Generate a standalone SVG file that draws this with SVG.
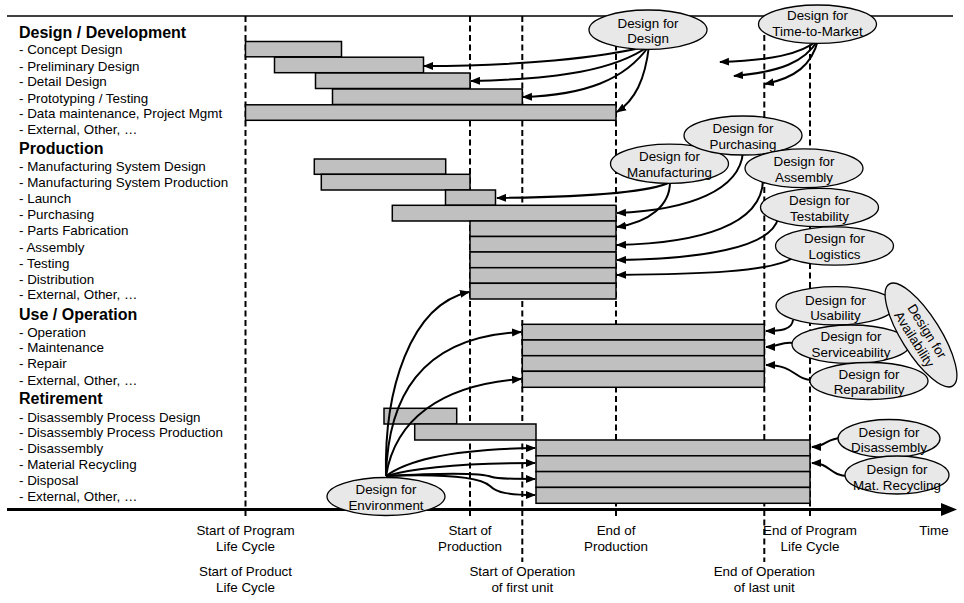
<svg xmlns="http://www.w3.org/2000/svg" width="964" height="603" viewBox="0 0 964 603">
<style>
text{font-family:"Liberation Sans",Arial,sans-serif;font-size:13.4px;fill:#000}
.h{font-weight:bold;font-size:16px}
.c{text-anchor:middle}
.bar{fill:#c0c0c0;stroke:#000;stroke-width:1.5}
.dash{stroke:#000;stroke-width:2;stroke-dasharray:6 3.5;fill:none}
.node ellipse{fill:#e8e8e8;stroke:#000;stroke-width:1.3}
.arr{fill:none;stroke:#000;stroke-width:2;marker-end:url(#ah)}
</style>
<defs>
<marker id="ah" markerUnits="userSpaceOnUse" viewBox="0 0 10 8" refX="9" refY="4" markerWidth="10" markerHeight="8.5" orient="auto">
<path d="M0,0 L10,4 L0,8 z" fill="#000"/>
</marker>
</defs>
<rect width="964" height="603" fill="#fff"/>
<line x1="7" y1="16" x2="953" y2="16" stroke="#000" stroke-width="1.5"/>
<g id="milestones">
<line class="dash" x1="245.5" y1="16" x2="245.5" y2="517"/>
<line class="dash" x1="470" y1="16" x2="470" y2="517"/>
<line class="dash" x1="522.3" y1="16" x2="522.3" y2="562"/>
<line class="dash" x1="616" y1="16" x2="616" y2="517"/>
<line class="dash" x1="764.3" y1="16" x2="764.3" y2="562"/>
<line class="dash" x1="810" y1="16" x2="810" y2="517"/>
</g>
<g id="axis">
<line x1="7" y1="509.5" x2="943" y2="509.5" stroke="#000" stroke-width="3"/>
<polygon points="941,503 957,509.5 941,516" fill="#000"/>
</g>
<g id="labels">
<text class="h" x="19" y="37.5">Design / Development</text>
<text x="19" y="54.1">- Concept Design</text>
<text x="19" y="70.5">- Preliminary Design</text>
<text x="19" y="85.8">- Detail Design</text>
<text x="19" y="102.5">- Prototyping / Testing</text>
<text x="19" y="118.1">- Data maintenance, Project Mgmt</text>
<text x="19" y="134.1">- External, Other, …</text>
<text class="h" x="19" y="154">Production</text>
<text x="19" y="170.8">- Manufacturing System Design</text>
<text x="19" y="187.1">- Manufacturing System Production</text>
<text x="19" y="203.1">- Launch</text>
<text x="19" y="219.1">- Purchasing</text>
<text x="19" y="234.8">- Parts Fabrication</text>
<text x="19" y="251.5">- Assembly</text>
<text x="19" y="267.5">- Testing</text>
<text x="19" y="283.8">- Distribution</text>
<text x="19" y="299.1">- External, Other, …</text>
<text class="h" x="19" y="319.8">Use / Operation</text>
<text x="19" y="336.5">- Operation</text>
<text x="19" y="352.1">- Maintenance</text>
<text x="19" y="368.1">- Repair</text>
<text x="19" y="384.8">- External, Other, …</text>
<text class="h" x="19" y="404">Retirement</text>
<text x="19" y="421.5">- Disassembly Process Design</text>
<text x="19" y="437.1">- Disassembly Process Production</text>
<text x="19" y="453.1">- Disassembly</text>
<text x="19" y="469.1">- Material Recycling</text>
<text x="19" y="484.8">- Disposal</text>
<text x="19" y="500.8">- External, Other, …</text>
</g>
<g id="bars">
<rect class="bar" x="245.5" y="41.5" width="96" height="15.3"/>
<rect class="bar" x="274.5" y="57.2" width="149" height="15.5"/>
<rect class="bar" x="315.5" y="73" width="154.5" height="15.5"/>
<rect class="bar" x="332.5" y="89" width="189.8" height="15.5"/>
<rect class="bar" x="245.5" y="104.8" width="370.5" height="15.5"/>
<rect class="bar" x="314.3" y="159" width="131.4" height="15.3"/>
<rect class="bar" x="321.3" y="174.3" width="148.7" height="15.7"/>
<rect class="bar" x="445.5" y="190" width="50" height="15.3"/>
<rect class="bar" x="392.3" y="205.3" width="223.7" height="15.7"/>
<rect class="bar" x="470" y="221" width="146" height="15.5"/>
<rect class="bar" x="470" y="236.5" width="146" height="15.5"/>
<rect class="bar" x="470" y="252" width="146" height="15.7"/>
<rect class="bar" x="470" y="267.7" width="146" height="15.6"/>
<rect class="bar" x="470" y="283.3" width="146" height="15.7"/>
<rect class="bar" x="522.3" y="324.3" width="242" height="15.7"/>
<rect class="bar" x="522.3" y="340" width="242" height="15.7"/>
<rect class="bar" x="522.3" y="355.7" width="242" height="15.6"/>
<rect class="bar" x="522.3" y="371.3" width="242" height="16"/>
<rect class="bar" x="384" y="408.3" width="72.7" height="15.7"/>
<rect class="bar" x="414.7" y="424" width="121.3" height="16"/>
<rect class="bar" x="536" y="440" width="274" height="15.8"/>
<rect class="bar" x="536" y="455.8" width="274" height="15.8"/>
<rect class="bar" x="536" y="471.6" width="274" height="15.8"/>
<rect class="bar" x="536" y="487.4" width="274" height="15.9"/>
</g>
<g id="timeLabels">
<text class="c" x="245.5" y="534.8">Start of Program</text>
<text class="c" x="245.5" y="550.8">Life Cycle</text>
<text class="c" x="245.5" y="575.8">Start of Product</text>
<text class="c" x="245.5" y="591.8">Life Cycle</text>
<text class="c" x="470" y="534.8">Start of</text>
<text class="c" x="470" y="550.8">Production</text>
<text class="c" x="522.3" y="575.8">Start of Operation</text>
<text class="c" x="522.3" y="591.8">of first unit</text>
<text class="c" x="616" y="534.8">End of</text>
<text class="c" x="616" y="550.8">Production</text>
<text class="c" x="764.3" y="575.8">End of Operation</text>
<text class="c" x="764.3" y="591.8">of last unit</text>
<text class="c" x="810" y="534.8">End of Program</text>
<text class="c" x="810" y="550.8">Life Cycle</text>
<text class="c" x="934" y="534.8">Time</text>
</g>
<g id="connectors">
<path class="arr" d="M649,46 C600,58 520,66 424,66"/>
<path class="arr" d="M649,46 C615,70 560,79 471,81"/>
<path class="arr" d="M649,46 C625,80 585,95 523,97"/>
<path class="arr" d="M649,46 C645,80 635,100 617,112"/>
<path class="arr" d="M818,40 C800,55 770,60 720,62"/>
<path class="arr" d="M818,40 C805,62 780,72 734,76"/>
<path class="arr" d="M818,40 C812,65 795,78 765,84"/>
<path class="arr" d="M670,182 C650,193 580,197 497,198"/>
<path class="arr" d="M670,182 C670,205 650,222 617,227"/>
<path class="arr" d="M743,152 C740,190 690,210 617,213"/>
<path class="arr" d="M763,180 C762,225 700,243 617,245"/>
<path class="arr" d="M778,219 C770,248 700,259 617,260"/>
<path class="arr" d="M793,258 C770,272 700,274 617,275"/>
<path class="arr" d="M793,320 C792,330 780,331 766,331"/>
<path class="arr" d="M794,343 C780,341 780,347 766,347"/>
<path class="arr" d="M812,380 C795,380 795,365 766,365"/>
<path class="arr" d="M842,438 C826,438 826,447 812,447"/>
<path class="arr" d="M848,476 C830,476 830,463 812,463"/>
<path class="arr" d="M386,476 C384,390 410,305 469,292"/>
<path class="arr" d="M386,476 C388,400 418,337 521,332"/>
<path class="arr" d="M386,476 C395,420 440,385 521,379"/>
<path class="arr" d="M386,476 C410,458 460,449 535,448"/>
<path class="arr" d="M386,476 C420,466 470,463 535,463"/>
<path class="arr" d="M386,476 C440,473 480,472 492,477 C497,479 510,479 535,479"/>
<path class="arr" d="M386,476 C440,474 478,476 490,486 C497,493 510,495 535,495"/>
</g>
<g id="dfDesign" class="node"><ellipse cx="648" cy="29.7" rx="59" ry="19.7"/><text class="c" x="648" y="27.5">Design for</text><text class="c" x="648" y="43">Design</text></g>
<g id="dfTimeToMarket" class="node"><ellipse cx="817.5" cy="24.2" rx="59" ry="19.2"/><text class="c" x="817.5" y="20">Design for</text><text class="c" x="817.5" y="36.3">Time-to-Market</text></g>
<g id="dfManufacturing" class="node"><ellipse cx="669.5" cy="163.7" rx="59" ry="19.6"/><text class="c" x="669.5" y="160.8">Design for</text><text class="c" x="669.5" y="177">Manufacturing</text></g>
<g id="dfPurchasing" class="node"><ellipse cx="743" cy="135.5" rx="59" ry="19.5"/><text class="c" x="743" y="133">Design for</text><text class="c" x="743" y="148.8">Purchasing</text></g>
<g id="dfAssembly" class="node"><ellipse cx="804" cy="168.3" rx="59" ry="19.4"/><text class="c" x="804" y="165.5">Design for</text><text class="c" x="804" y="181.5">Assembly</text></g>
<g id="dfTestability" class="node"><ellipse cx="819.5" cy="207.5" rx="59" ry="19.2"/><text class="c" x="819.5" y="204.8">Design for</text><text class="c" x="819.5" y="221">Testability</text></g>
<g id="dfLogistics" class="node"><ellipse cx="834.5" cy="246" rx="59" ry="19.2"/><text class="c" x="834.5" y="243">Design for</text><text class="c" x="834.5" y="259">Logistics</text></g>
<g id="dfUsability" class="node"><ellipse cx="835.5" cy="305.8" rx="59.5" ry="19.2"/><text class="c" x="835.5" y="304.8">Design for</text><text class="c" x="835.5" y="319.8">Usability</text></g>
<g id="dfServiceability" class="node"><ellipse cx="851" cy="344.2" rx="59" ry="19.2"/><text class="c" x="851" y="340.8">Design for</text><text class="c" x="851" y="356.5">Serviceability</text></g>
<g id="dfReparability" class="node"><ellipse cx="869" cy="381" rx="59" ry="18.5"/><text class="c" x="869" y="378.5">Design for</text><text class="c" x="869" y="393.5">Reparability</text></g>
<g id="dfAvailability" class="node" transform="translate(921,335) rotate(58)"><ellipse cx="0" cy="0" rx="60" ry="19.5"/><text class="c" x="0" y="-2.5">Design for</text><text class="c" x="0" y="12.5">Availability</text></g>
<g id="dfDisassembly" class="node"><ellipse cx="889" cy="438.5" rx="51" ry="19"/><text class="c" x="889" y="436.5">Design for</text><text class="c" x="889" y="452">Disassembly</text></g>
<g id="dfMatRecycling" class="node"><ellipse cx="897" cy="475" rx="52" ry="19"/><text class="c" x="897" y="473.8">Design for</text><text class="c" x="897" y="489.8">Mat. Recycling</text></g>
<g id="dfEnvironment" class="node"><ellipse cx="386" cy="496.5" rx="59" ry="19"/><text class="c" x="386" y="493.5">Design for</text><text class="c" x="386" y="509.5">Environment</text></g>
</svg>
